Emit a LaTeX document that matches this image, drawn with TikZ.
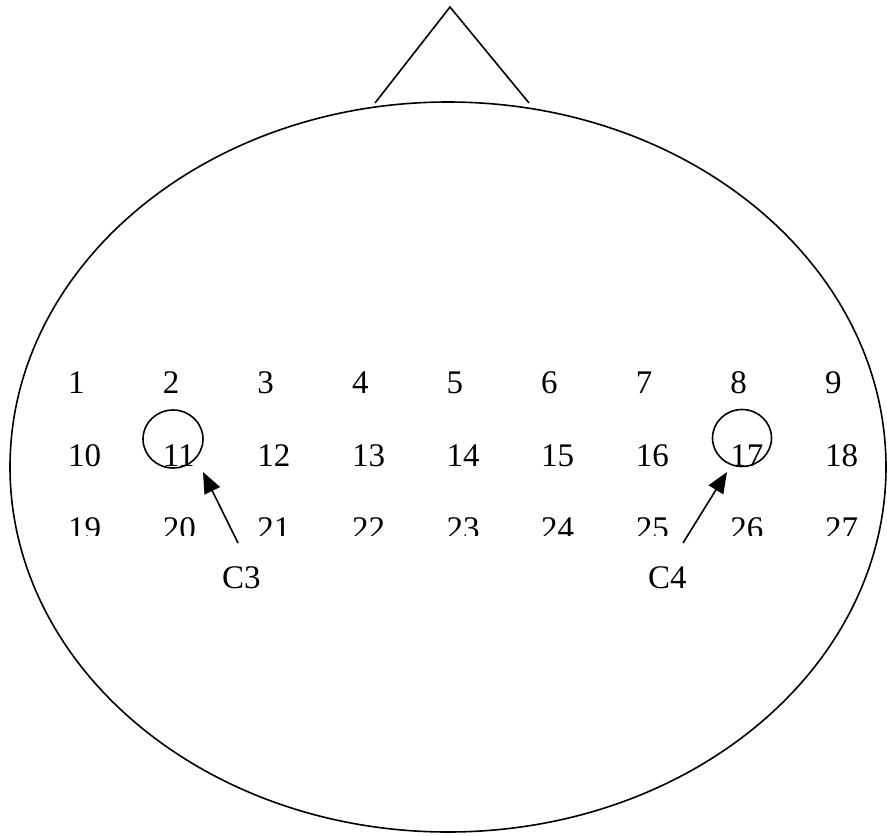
\documentclass[tikz,border=0pt]{standalone}
\usepackage{fontspec}
\setmainfont{Liberation Serif}
\usetikzlibrary{arrows.meta,shapes.geometric}
\begin{document}
\begin{tikzpicture}[x=1pt,y=-1pt,
    num/.style={anchor=base west, inner sep=0pt, font=\fontsize{33}{39}\selectfont},
    ring/.style={draw, ellipse, line width=1.6pt, inner sep=0pt},
    pointer/.style={-{Triangle[length=21pt,width=17pt]}, line width=1.6pt}]
        \useasboundingbox (0,0) rectangle (887,836);
        % Head and nose
        \draw[line width=1.6pt] (448,467) ellipse [x radius=438, y radius=365];
        \coordinate (nose_l) at (375,103);
        \coordinate (nose_t) at (450,7);
        \coordinate (nose_r) at (529,103);
        \draw[line width=1.6pt] (nose_l) -- (nose_t) -- (nose_r);
        % Electrode numbers (rows top to bottom)
        \foreach \i in {1,...,9} {
          \pgfmathtruncatemacro\k{\i+9}
          \node[num] (n\i) at ({68+94.6*(\i-1)},393) {\i};
          \node[num] (n\k) at ({68+94.6*(\i-1)},466) {\k};
        }
        \begin{scope}
          \clip (0,0) rectangle (887,535);
          \foreach \i in {1,...,9} {
            \pgfmathtruncatemacro\k{\i+18}
            \node[num] (n\k) at ({68+94.6*(\i-1)},539) {\k};
          }
        \end{scope}
        % Marked electrodes
        \node[ring, minimum width=60pt, minimum height=58pt] (ring11) at (173,439) {};
        \node[ring, minimum width=59pt, minimum height=57pt] (ring17) at (742,438) {};
        % Labels and arrows
        \node[num] (lbl_c3) at (222,588) {C3};
        \node[num] (lbl_c4) at (648,588) {C4};
        \coordinate (tail_c3) at (238,543);
        \coordinate (tail_c4) at (683,543);
        \coordinate (tip_c3) at (203,472);
        \coordinate (tip_c4) at (727,472);
        \draw[pointer] (tail_c3) -- (tip_c3);
        \draw[pointer] (tail_c4) -- (tip_c4);
      \end{tikzpicture}
\end{document}
